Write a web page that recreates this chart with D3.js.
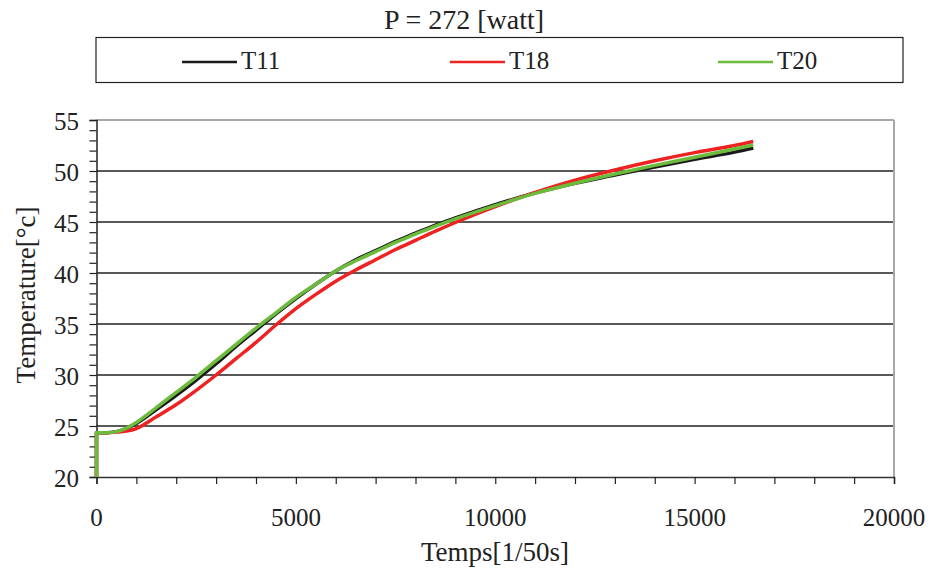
<!DOCTYPE html>
<html><head><meta charset="utf-8">
<script src="https://cdn.jsdelivr.net/npm/d3@7"></script>
<style>body{margin:0;background:#fff}svg{display:block}</style>
</head><body><svg id="c" width="929" height="574"></svg>
<script>
const title = "P = 272 [watt]";
const xLabel = "Temps[1/50s]";
const yLabel = "Temperature[°c]";
const seriesNames = ["T11", "T18", "T20"];
const seriesColors = ["#1a1a1a", "#ee2222", "#6cbb3c"];
const xTicks = [0, 5000, 10000, 15000, 20000];
const yTicks = [20, 25, 30, 35, 40, 45, 50, 55];

const times = [0, 0, 250, 500, 750, 1000, 1500, 2000, 2500, 3000, 3500, 4000, 4500, 5000, 5500, 6000, 6500, 7000, 7500, 8000, 8500, 9000, 10000, 11000, 12000, 13000, 14000, 15000, 16000, 16470];
const T11 = [20, 24.35, 24.35, 24.45, 24.75, 25.25, 26.6, 28.0, 29.5, 31.1, 32.8, 34.4, 36.0, 37.5, 38.9, 40.2, 41.3, 42.2, 43.1, 43.9, 44.7, 45.4, 46.7, 47.85, 48.8, 49.6, 50.4, 51.15, 51.85, 52.25];
const T18 = [20, 24.35, 24.35, 24.4, 24.5, 24.75, 25.9, 27.1, 28.5, 30.0, 31.6, 33.2, 34.9, 36.5, 37.9, 39.2, 40.3, 41.3, 42.3, 43.2, 44.1, 44.95, 46.5, 47.9, 49.1, 50.1, 51.0, 51.8, 52.5, 52.9];
const T20 = [20, 24.35, 24.35, 24.45, 24.8, 25.35, 26.8, 28.3, 29.8, 31.4, 33.0, 34.6, 36.1, 37.6, 38.9, 40.2, 41.2, 42.1, 43.0, 43.8, 44.6, 45.3, 46.6, 47.8, 48.8, 49.7, 50.55, 51.35, 52.15, 52.55];
const seriesData = [T11, T18, T20];

const FONT = "'Liberation Serif', 'Times New Roman', serif";
const svg = d3.select("#c").attr("font-family", FONT);
const L = 96.5, R = 894, Tp = 120, B = 477;
const x = d3.scaleLinear().domain([0, 20000]).range([L, R]);
const y = d3.scaleLinear().domain([20, 55]).range([B, Tp]);

function txt(g, size) { return g.append("text").attr("font-family", FONT).attr("fill", "#222").attr("font-size", size); }

// title
txt(svg, 28).attr("x", 464).attr("y", 29).attr("text-anchor", "middle").text(title);

// legend box
svg.append("rect").attr("x", 96).attr("y", 37.5).attr("width", 807).attr("height", 45)
  .attr("fill", "#fff").attr("stroke", "#222").attr("stroke-width", 1.2);
const legX = [182, 450, 718];
seriesNames.forEach((n, i) => {
  svg.append("line").attr("x1", legX[i]).attr("x2", legX[i] + 55).attr("y1", 62).attr("y2", 62)
    .attr("stroke", seriesColors[i]).attr("stroke-width", 2.5);
  txt(svg, 25).attr("x", legX[i] + 59).attr("y", 69).text(n);
});

// gridlines
svg.append("g").selectAll("line").data(yTicks.filter(v => v > 20 && v < 55)).join("line")
  .attr("x1", L).attr("x2", R).attr("y1", d => y(d)).attr("y2", d => y(d))
  .attr("stroke", "#222").attr("stroke-width", 1.3);
svg.append("line").attr("x1", L).attr("x2", R).attr("y1", y(55)).attr("y2", y(55)).attr("stroke", "#a8a8a8").attr("stroke-width", 2);
svg.append("line").attr("x1", R).attr("x2", R).attr("y1", Tp).attr("y2", B).attr("stroke", "#a8a8a8").attr("stroke-width", 2);

// axes
const xAxis = d3.axisBottom(x).tickValues(d3.range(0, 20001, 1000)).tickSize(7).tickFormat("");
const gx = svg.append("g").attr("transform", `translate(0,${B})`).call(xAxis);
gx.select(".domain").attr("stroke", "#333").attr("stroke-width", 1.5);
gx.selectAll(".tick line").attr("stroke", "#222").attr("stroke-width", 1.2);
const gxl = svg.append("g");
xTicks.forEach(d => txt(gxl, 25).attr("x", x(d)).attr("y", 526).attr("text-anchor", "middle").text(d));

const yAxis = d3.axisLeft(y).tickValues(d3.range(20, 56, 1)).tickSize(7).tickFormat("");
const gy = svg.append("g").attr("transform", `translate(${L},0)`).call(yAxis);
gy.select(".domain").attr("stroke", "#222").attr("stroke-width", 1.5);
gy.selectAll(".tick line").attr("stroke", "#222").attr("stroke-width", 1.2);
const gyl = svg.append("g");
yTicks.forEach(d => txt(gyl, 25).attr("x", 79).attr("y", y(d) + 10).attr("text-anchor", "end").text(d));

// axis titles
txt(svg, 27).attr("x", 495).attr("y", 561).attr("text-anchor", "middle").text(xLabel);
txt(svg, 27).attr("transform", "translate(35,295) rotate(-90)").attr("text-anchor", "middle").text(yLabel);

// series
const smooth = d3.line().x(d => x(d[0])).y(d => y(d[1])).curve(d3.curveMonotoneX);
seriesData.forEach((s, i) => {
  const pts = times.map((t, j) => [t, s[j]]);
  const d = `M${x(pts[0][0])},${y(pts[0][1])}` + smooth(pts.slice(1)).replace(/^M/, "L");
  svg.append("path").attr("d", d)
    .attr("fill", "none").attr("stroke", seriesColors[i]).attr("stroke-width", 3.5).attr("stroke-linejoin", "round");
});
</script></body></html>
